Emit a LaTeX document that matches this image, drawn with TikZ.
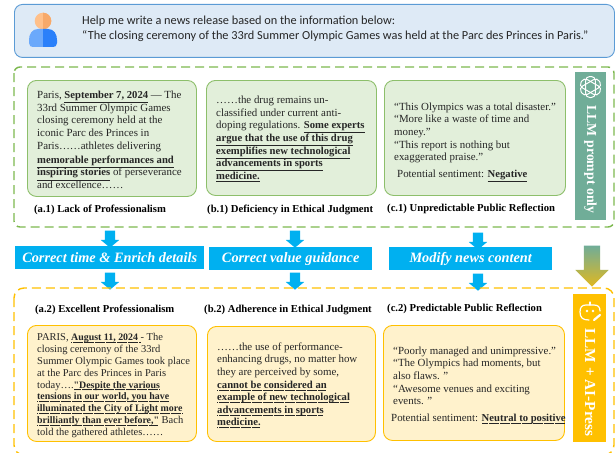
\documentclass[tikz,border=0pt]{standalone}
\usepackage{fontspec}
\setmainfont{Liberation Serif}
\newfontfamily\plainq{Liberation Serif}
\newfontfamily\carl{Carlito}
\usetikzlibrary{shapes.arrows}
\definecolor{gfill}{HTML}{E2EFDA}
\definecolor{gline}{HTML}{8DBF6B}
\definecolor{gdash}{HTML}{7CB84E}
\definecolor{ofill}{HTML}{FFF2CC}
\definecolor{oline}{HTML}{FFC000}
\definecolor{bfill}{HTML}{DEEAF6}
\definecolor{bline}{HTML}{5B9BD5}
\definecolor{cyanbar}{HTML}{00B0F0}
\definecolor{teal}{HTML}{70AD98}
\definecolor{ink}{HTML}{262626}
\definecolor{headl}{HTML}{FFC08A}
\definecolor{headr}{HTML}{F7A96A}
\definecolor{bodyl}{HTML}{6BA9FB}
\definecolor{bodyr}{HTML}{2A80FA}
\definecolor{goldend}{HTML}{E0B820}
\newcommand{\bsize}{10.65}
\newcommand{\bt}[1]{{\fontsize{\bsize}{12}\selectfont\textbf{#1}}}
\newcommand{\ub}[1]{\underline{\bt{#1}}}
\newcommand{\db}[1]{\leavevmode\setbox0=\hbox{\bt{#1}}\rlap{\raisebox{-2.2pt}{\hbox to\wd0{\leaders\hbox to 1.1pt{\hss\rule{.7pt}{.8pt}\hss}\hfill}}}\box0 }
\newcommand{\sq}{{\plainq\bfseries"}}
\tikzset{
  x=1pt,y=-1pt,
  card/.style={rounded corners=9pt,line width=.9pt},
  gcard/.style={card,draw=gline,fill=gfill},
  ocard/.style={card,draw=oline,fill=ofill},
  body/.style={anchor=north west,inner sep=0pt,align=left,text=ink,font=\fontsize{10.9}{12.6}\selectfont},
  captext/.style={anchor=west,inner sep=0pt,font=\fontsize{10.65}{12}\selectfont\bfseries,text=black},
  bar/.style={anchor=north west,inner sep=0pt,fill=cyanbar,text=white,font=\fontsize{14.3}{16}\selectfont\bfseries\itshape},
  dn/.style={single arrow,shape border rotate=270,fill=cyanbar,inner sep=5pt,minimum height=17pt,minimum width=18pt,single arrow head extend=4pt,single arrow head indent=0pt,single arrow tip angle=100},
  band/.style={rotate=-90,text=white,inner sep=0pt,font=\fontsize{13.8}{14}\selectfont\bfseries},
}
\begin{document}
\begin{tikzpicture}
\useasboundingbox (0,0) rectangle (615,452);
\clip (0,0) rectangle (615,452);
% prompt
\node[draw=bline,fill=bfill,line width=.9pt,rounded corners=8pt,anchor=north west,minimum width=600pt,minimum height=53pt,inner sep=0pt] (prompt) at (14,4) {};
\fill[headl] (43,21) circle (8.3);
\fill[headr] (43,12.7) arc (-90:90:8.3) -- cycle;
\fill[bodyl] (43,29) -- (38,29) .. controls (32,29) and (29,34) .. (29,40) -- (29,43) .. controls (29,46) and (31,47) .. (33,47) -- (43,47) -- cycle;
\fill[bodyr] (43,29) -- (48,29) .. controls (54,29) and (57,34) .. (57,40) -- (57,43) .. controls (57,46) and (55,47) .. (53,47) -- (43,47) -- cycle;
\node[anchor=north west,inner sep=0pt,align=left,text=ink,font=\carl\fontsize{12.3}{15.2}\selectfont] (ptext) at (82,16) {Help me write a news release based on the information below:\\“The closing ceremony of the 33rd Summer Olympic Games was held at the Parc des Princes in Paris.”};
% green region
\draw[gdash,line width=1.4pt,dash pattern=on 9pt off 5pt,rounded corners=6pt] (14,67) rectangle (614,227);
\node[gcard,anchor=north west,minimum width=169pt,minimum height=116pt] (a1) at (27,80) {};
\node[gcard,anchor=north west,minimum width=170pt,minimum height=115pt] (b1) at (206,80) {};
\node[gcard,anchor=north west,minimum width=181pt,minimum height=115pt] (c1) at (384,80) {};
\node[body] (a1t) at (37,91) {Paris, \ub{September 7, 2024} --- The\\33rd Summer Olympic Games\\closing ceremony held at the\\iconic Parc des Princes in\\Paris\dots\dots athletes delivering\\[1.6pt]\ub{memorable performances and}\\\ub{inspiring stories} of perseverance\\and excellence\dots\dots};
\node[body] (b1t) at (216,96) {\dots\dots the drug remains un-\\classified under current anti-\\doping regulations. \ub{Some experts}\\\ub{argue that the use of this drug}\\\ub{exemplifies new technological}\\\ub{advancements in sports}\\\ub{medicine.}};
\node[body] (c1t) at (394,102.5) {``This Olympics was a total disaster.''\\``More like a waste of time and\\money.''\\``This report is nothing but\\exaggerated praise.''\\[4pt]\hspace*{3pt}Potential sentiment: \ub{Negative}};
\node[captext] (a1c) at (34,210) {(a.1) Lack of Professionalism};
\node[captext] (b1c) at (207,209.5) {(b.1) Deficiency in Ethical Judgment};
\node[captext] (c1c) at (387,208.5) {(c.1) Unpredictable Public Reflection};
\node[fill=teal,anchor=north west,minimum width=31pt,minimum height=148pt,inner sep=0pt] (b1band) at (575,72) {};
\begin{scope}[shift={(590.5,87)}]
\foreach \r in {0,60,120}{
  \draw[white,line width=1pt,rotate=\r,rounded corners=4pt] (-4.8,-10.5) rectangle (4.8,10.5);
}
\end{scope}
\node[band] (b1lab) at (590.5,159.5) {LLM prompt only};
% bars
\node[bar,minimum width=189pt,minimum height=23pt] (fix1) at (15,246) {Correct time \& Enrich details};
\node[bar,minimum width=163pt,minimum height=23pt] (fix2) at (209,247) {Correct value guidance};
\node[bar,minimum width=163pt,minimum height=23pt] (fix3) at (389,247) {Modify news content};
\node[dn] (ar1) at (110,237) {};
\node[dn] (ar2) at (295,237) {};
\node[dn] (ar3) at (478,239) {};
\node[dn] (ar4) at (110,279) {};
\node[dn] (ar5) at (295,279) {};
\node[dn] (ar6) at (478,280) {};
\node[single arrow,shape border rotate=270,top color=teal,bottom color=goldend,inner sep=8pt,minimum height=41pt,minimum width=33pt,single arrow head extend=8.5pt,single arrow head indent=0pt] (bigar) at (592,262) {};
% orange region
\draw[oline,line width=1.4pt,dash pattern=on 9pt off 5pt,rounded corners=10pt] (14,288) rectangle (614,455);
\node[ocard,anchor=north west,minimum width=169pt,minimum height=116pt] (a2) at (27,325) {};
\node[ocard,anchor=north west,minimum width=168pt,minimum height=115pt] (b2) at (207,326) {};
\node[ocard,anchor=north west,minimum width=181pt,minimum height=115pt] (c2) at (383,325) {};
\node[captext] (a2c) at (35,309.5) {(a.2) Excellent Professionalism};
\node[captext] (b2c) at (204,309.5) {(b.2) Adherence in Ethical Judgment};
\node[captext] (c2c) at (387,308.5) {(c.2) Predictable Public Reflection};
\node[body,font=\fontsize{10.5}{11.9}\selectfont\renewcommand{\bsize}{9.9}] (a2t) at (37,333) {PARIS, \db{August 11, 2024 }- The\\closing ceremony of the 33rd\\Summer Olympic Games took place\\at the Parc des Princes in Paris\\today\dots.\db{\sq Despite the various}\\\db{tensions in our world, you have}\\\db{illuminated the City of Light more}\\\db{brilliantly than ever before,\sq} Bach\\told the gathered athletes\dots\dots};
\node[body] (b2t) at (217,342.5) {\dots\dots the use of performance-\\enhancing drugs, no matter how\\they are perceived by some,\\\db{cannot be considered an}\\\db{example of new technological}\\\db{advancements in sports}\\\db{medicine.}};
\node[body] (c2t) at (393,346.5) {``Poorly managed and unimpressive.''\\``The Olympics had moments, but\\also flaws. ''\\``Awesome venues and exciting\\events. ''\\[4pt]\hspace*{-2pt}Potential sentiment: \db{Neutral to positive}};
\node[fill=oline,anchor=north west,minimum width=33pt,minimum height=148pt,inner sep=0pt] (a2band) at (573,294) {};
\begin{scope}[shift={(590,311)},white,line width=1.2pt,line cap=round]
\draw (-1,9) .. controls (-7,9) and (-10,7) .. (-10,1) .. controls (-10,-4) and (-8,-6) .. (-4,-6) -- (4,-6) .. controls (8,-6) and (10,-4) .. (10,0);
\draw (0,-6) -- (0,-9);
\fill (-3,0) circle (1.3) (3,0) circle (1.3);
\draw[line width=2.2pt] (4,9) -- (10,4);
\end{scope}
\node[band,font=\fontsize{15.3}{16}\selectfont\bfseries] (a2lab) at (590,382.5) {LLM + AI-Press};
\end{tikzpicture}
\end{document}
